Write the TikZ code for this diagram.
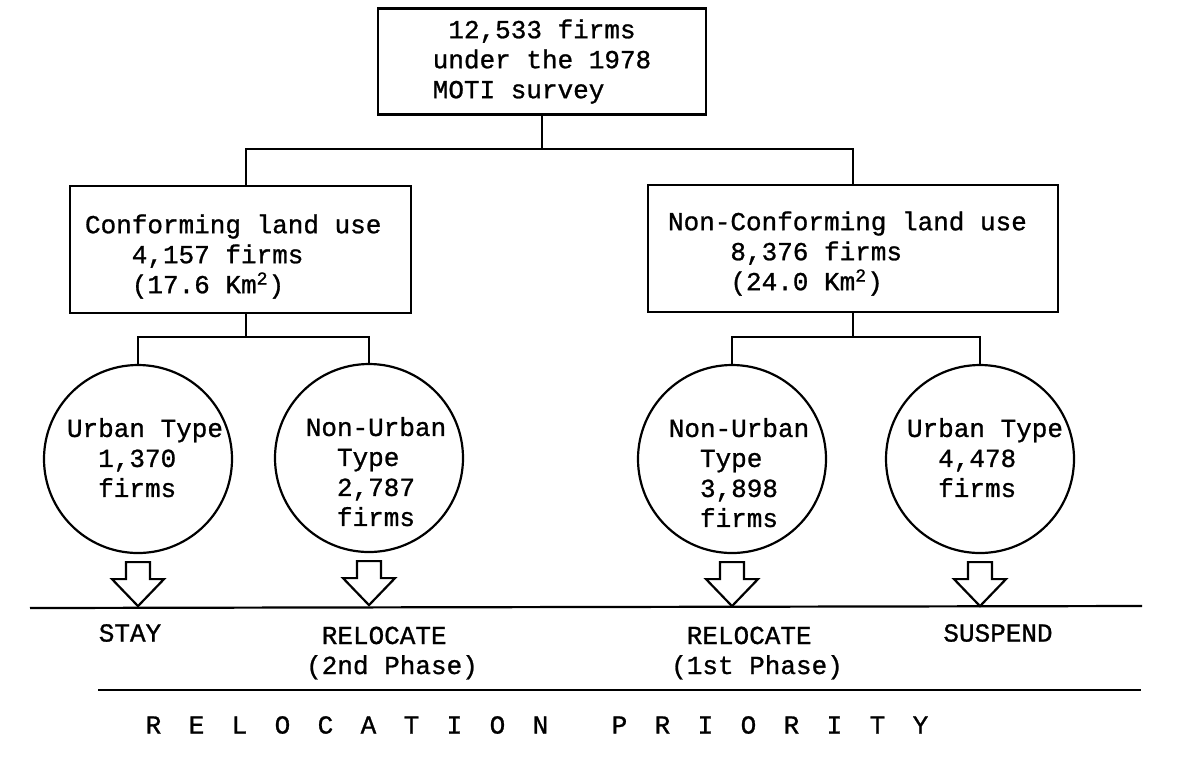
\documentclass[tikz,border=0pt]{standalone}
\usepackage{fontspec}
\setmonofont[FakeBold=1]{Liberation Mono}

\begin{document}
\begin{tikzpicture}[x=0.5pt,y=-0.5pt,line width=1.1pt,
  every node/.style={font=\ttfamily\fontsize{13}{15}\selectfont,inner sep=0pt},
  box/.style={draw,line width=1.1pt},
  unit/.style={draw,circle,line width=1.1pt,minimum size=94pt},
  lbl/.style={align=left,anchor=north}]
\useasboundingbox (0,0) rectangle (1177,757);
% survey and land use
\node[box,align=left,minimum width=164pt,minimum height=53pt] (total) at (542,61.5) {~12,533 firms\\under the 1978\\MOTI survey};
\node[box,minimum width=170.5pt,minimum height=63.5pt] (conf) at (240.5,249.5) {};
\node[box,minimum width=205pt,minimum height=63.5pt] (nonconf) at (853,248.5) {};
\node[align=left,anchor=west] (conftxt) at ([shift={(15,7)}]conf.west) {Conforming land use\\~~~4,157 firms\\~~~(17.6 Km\textsuperscript{2})};
\node[align=left,anchor=west] (nonconftxt) at ([shift={(20,5)}]nonconf.west) {Non-Conforming land use\\~~~~8,376 firms\\~~~~(24.0 Km\textsuperscript{2})};
% firm types
\node[unit] (urbA) at (138,459) {};
\node[unit] (nonurbA) at (369,458) {};
\node[unit] (nonurbB) at (732,459) {};
\node[unit] (urbB) at (980,459) {};
\node[lbl] (urbAtxt) at ([shift={(7,-42)}]urbA.center) {Urban Type\\~~1,370\\~~firms};
\node[lbl] (nonurbAtxt) at ([shift={(7,-42)}]nonurbA.center) {Non-Urban\\~~Type\\~~2,787\\~~firms};
\node[lbl] (nonurbBtxt) at ([shift={(7,-42)}]nonurbB.center) {Non-Urban\\~~Type\\~~3,898\\~~firms};
\node[lbl] (urbBtxt) at ([shift={(5,-42)}]urbB.center) {Urban Type\\~~4,478\\~~firms};
% tree
\draw (total.south) -- ++(0,33) coordinate (split);
\draw ([xshift=2.75pt]conf.north) |- (split) -| (nonconf.north);
\draw ([xshift=2.75pt]conf.south) -- ++(0,23) coordinate (splitA);
\draw (urbA.north) |- (splitA) -| (nonurbA.north);
\draw (nonconf.south) -- ++(0,24) coordinate (splitB);
\draw (nonurbB.north) |- (splitB) -| (urbB.north);
% hollow arrows
\foreach \c in {urbA,nonurbA,nonurbB,urbB}
  \draw ([shift={(-12,8)}]\c.south) -- ++(0,17) -- ++(-14,0) -- ++(26,27) -- ++(26,-27) -- ++(-14,0) -- ++(0,-17) -- cycle;
% priority
\draw (30,608) -- (1142,606);
\node (stay) at (130,633) {STAY};
\node[align=left] (reloc2) at (392,653) {~RELOCATE\\(2nd Phase)};
\node[align=left] (reloc1) at (757,653) {~RELOCATE\\(1st Phase)};
\node (susp) at (998,633) {SUSPEND};
\draw (98,690) -- (1141,690);
\node (prio) at (537,725) {\spaceskip=13.7pt R E L O C A T I O N\hspace{31.7pt}P R I O R I T Y};
\end{tikzpicture}
\end{document}
